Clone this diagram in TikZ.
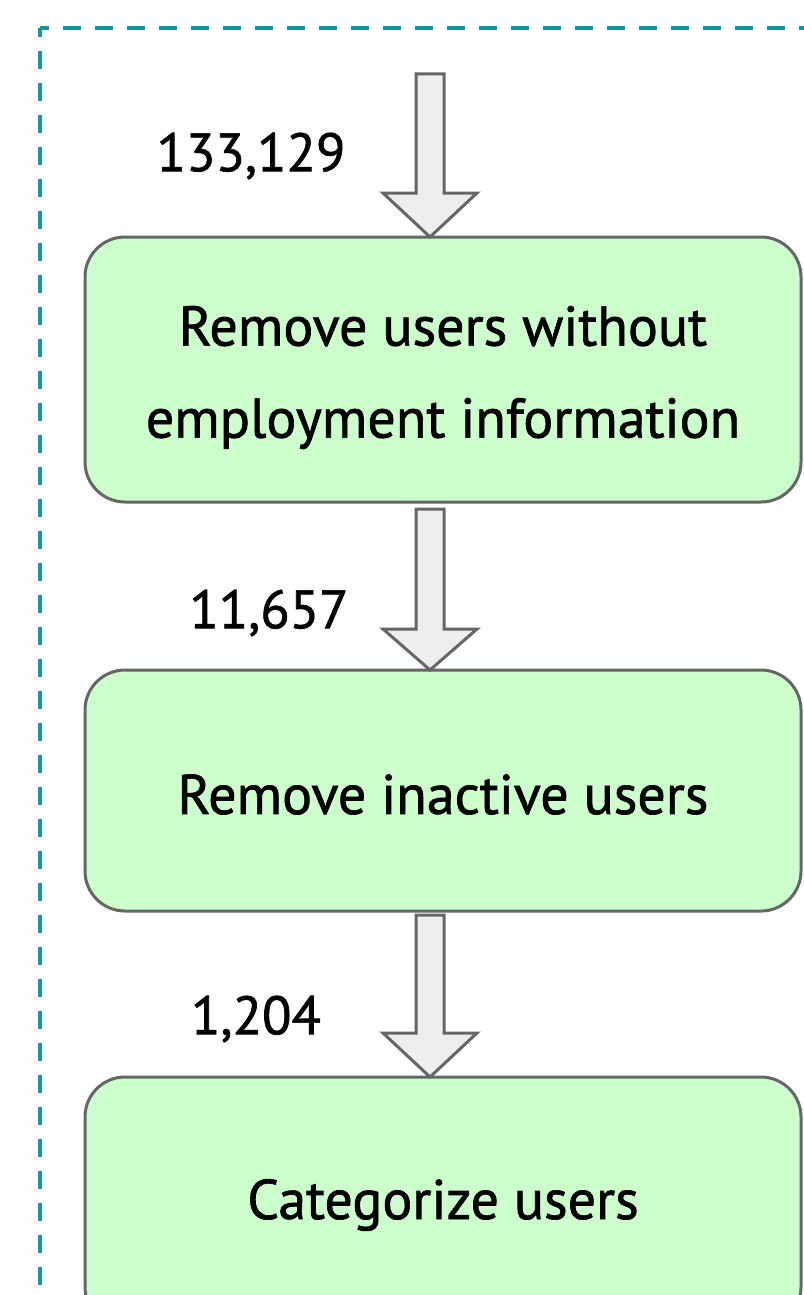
\documentclass[tikz,border=0pt]{standalone}
\usepackage{fontspec}
\setmainfont{PT Sans}
\newfontfamily\labelfont[FakeBold=1.2]{PT Sans}
\usetikzlibrary{calc}
\definecolor{boxfill}{HTML}{CCFFCC}
\definecolor{boxdraw}{HTML}{666666}
\definecolor{arrfill}{HTML}{EEEEEE}
\definecolor{teal}{HTML}{1097A5}
\tikzset{
  stepbox/.style={draw=boxdraw, fill=boxfill, line width=3pt, rounded corners=40pt,
    minimum width=716pt, inner sep=0pt},
  steptext/.style={align=center, inner sep=0pt, font=\labelfont\fontsize{56}{92}\selectfont},
  countlabel/.style={inner sep=0pt, font=\labelfont\fontsize{54}{66}\selectfont},
  blockarrow/.style={draw=boxdraw, fill=arrfill, line width=3pt, line join=miter},
  frame/.style={draw=teal, line width=4pt, dash pattern=on 18pt off 14pt, dash phase=9pt}
}
\newcommand{\blockarr}[3]{% top coordinate, head-base y offset, tip coordinate
  \path[blockarrow] ($(#1)+(-14,0)$) -- ($(#1)+(14,0)$) -- ($(#1)+(14,#2)$) -- ($(#1)+(47,#2)$)
   -- (#3) -- ($(#1)+(-47,#2)$) -- ($(#1)+(-14,#2)$) -- cycle;}
\begin{document}
\begin{tikzpicture}[x=1pt,y=-1pt]
\useasboundingbox (0,0) rectangle (803,1295);
\fill[white] (0,0) rectangle (803,1295);
\coordinate (fc) at (40,28);
\draw[frame] (fc) -- (40,1400);
\draw[frame] (fc) -- (900,28);

\node[stepbox, minimum height=265pt] (b1) at (443,369.5) {};
\node[stepbox, minimum height=241pt] (b2) at (443,790.5) {};
\node[stepbox, minimum height=250pt] (b3) at (443,1202) {};
\node[steptext] (t1) at ($(b1.center)+(0,8)$) {Remove users without\\employment information};
\node[steptext] (t2) at ($(b2.center)+(0,4)$) {Remove inactive users};
\node[steptext] (t3) at ($(b3.center)+(0,3)$) {Categorize users};

\coordinate (a1s) at (430,74);
\coordinate (a1t) at (430,237);
\coordinate (a2s) at (430,509);
\coordinate (a2t) at (430,670);
\coordinate (a3s) at (430,915);
\coordinate (a3t) at (430,1077);
\blockarr{a1s}{119}{a1t}
\blockarr{a2s}{120}{a2t}
\blockarr{a3s}{118}{a3t}

\node[countlabel] (l1) at (251,156) {133,129};
\node[countlabel] (l2) at (269,613) {11,657};
\node[countlabel] (l3) at (256,1019) {1,204};
\end{tikzpicture}
\end{document}
